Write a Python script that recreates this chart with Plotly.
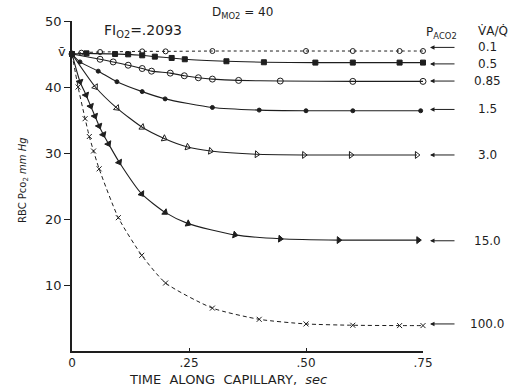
import plotly.graph_objects as go

# ---- data (time along capillary, sec ; RBC Pco2 mm Hg) ----
t_01 = [0, 0.02, 0.06, 0.15, 0.20, 0.30, 0.50, 0.60, 0.70, 0.75]
v_01 = [45, 45.2, 45.3, 45.4, 45.4, 45.45, 45.45, 45.45, 45.45, 45.45]

t_05 = [0, 0.031, 0.092, 0.12, 0.15, 0.177, 0.213, 0.241, 0.33, 0.41, 0.52, 0.60, 0.70, 0.75]
v_05 = [45, 45.1, 45.0, 44.95, 44.8, 44.6, 44.4, 44.2, 43.9, 43.75, 43.7, 43.7, 43.7, 43.7]

t_085 = [0, 0.06, 0.088, 0.12, 0.15, 0.17, 0.21, 0.24, 0.27, 0.30, 0.356, 0.445, 0.60, 0.75]
v_085 = [45, 44.2, 43.8, 43.3, 42.8, 42.4, 42.1, 41.7, 41.4, 41.2, 41.0, 40.9, 40.85, 40.85]

t_15 = [0, 0.017, 0.056, 0.096, 0.15, 0.199, 0.30, 0.40, 0.50, 0.60, 0.745]
v_15 = [45, 43.8, 42.4, 40.8, 39.3, 38.2, 36.9, 36.5, 36.4, 36.4, 36.4]

t_30 = [0, 0.05, 0.096, 0.15, 0.197, 0.247, 0.296, 0.395, 0.496, 0.596, 0.737]
v_30 = [45, 40.0, 36.8, 33.9, 32.2, 30.9, 30.3, 29.8, 29.7, 29.7, 29.7]

t_150 = [0, 0.017, 0.03, 0.04, 0.049, 0.058, 0.067, 0.078, 0.101, 0.149, 0.199, 0.248, 0.348, 0.445, 0.57, 0.74]
v_150 = [45, 40.8, 38.8, 37.1, 35.6, 34.1, 32.8, 31.4, 28.6, 23.8, 21.0, 19.3, 17.6, 17.0, 16.8, 16.8]

t_1000 = [0, 0.013, 0.028, 0.037, 0.046, 0.058, 0.099, 0.149, 0.20, 0.30, 0.40, 0.50, 0.60, 0.70, 0.75]
v_1000 = [45, 40.0, 35.2, 32.5, 30.3, 27.6, 20.2, 14.5, 10.3, 6.5, 4.8, 4.1, 3.9, 3.85, 3.85]

ratio_labels = ["0.1", "0.5", "0.85", "1.5", "3.0", "15.0", "100.0"]
label_y = [46.0, 43.5, 40.9, 36.6, 29.7, 16.7, 4.1]

x_tickvals = [0, 0.25, 0.5, 0.75]
x_ticktext = ["0", ".25", ".50", ".75"]
y_tickvals = [10, 20, 30, 40, 50]
y_ticktext = ["10", "20", "30", "40", "50"]

INK = "#1e1e1e"
W, H = 524, 392
ML, MR, MT, MB = 72, 101, 21, 41
PW, PH = W - ML - MR, H - MT - MB
X0, X1, Y0, Y1 = 0, 0.75, 0, 50

fig = go.Figure()

def add(t, v, symbol, size, dash="solid", width=1.1, angleref="up", fill=INK):
    fig.add_trace(go.Scatter(
        x=t, y=v, mode="lines+markers", cliponaxis=False,
        line=dict(color=INK, width=width, dash=dash, shape="spline", smoothing=0.6),
        marker=dict(symbol=symbol, size=size, color=fill, angleref=angleref,
                    line=dict(color=INK, width=1)),
        showlegend=False))

add(t_01, v_01, "circle-open", 5, dash="dot", width=1.0)
add(t_05, v_05, "square", 5)
add(t_085, v_085, "circle-open", 6)
add(t_15, v_15, "circle", 4)
add(t_30, v_30, "triangle-up-open", 6, angleref="previous")
add(t_150, v_150, "triangle-up", 6, angleref="previous")
add(t_1000, v_1000, "x-thin-open", 5, dash="4px,3px", width=1.0)

def px_x(xp):
    return (xp - ML) / PW

def px_y(yp):
    return (H - MB - yp) / PH

def val_y(v):
    return (v - Y0) / (Y1 - Y0)

def pix(xp, yp, text, size=12, **kw):
    return dict(x=px_x(xp), y=px_y(yp), xref="paper", yref="paper", text=text,
                showarrow=False, font=dict(size=size, color=INK, family="DejaVu Sans"),
                xanchor="center", yanchor="middle", **kw)

ann = []
for lab, yv in zip(ratio_labels, label_y):
    ann.append(dict(x=px_x(430), y=val_y(yv), xref="paper", yref="paper",
                    ax=26, ay=0, text="", showarrow=True, arrowhead=2, arrowsize=0.9,
                    arrowwidth=1, arrowcolor=INK))
    ann.append(dict(x=px_x(487), y=val_y(yv), xref="paper", yref="paper", text=lab,
                    showarrow=False, font=dict(size=12, color=INK, family="DejaVu Sans"),
                    xanchor="center", yanchor="middle"))

ann += [
    pix(441, 33, "P<sub>A</sub><sub>CO2</sub>", 12),
    pix(493, 31, "V̇A/Q̇", 12),
    pix(242, 13, "D<sub>M</sub><sub>O2</sub> = 40", 12),
    pix(143, 31, "FI<sub>O2</sub>=.2093", 14),
    pix(62, 51, "v̄", 13),
    pix(23, 180, "RBC Pco<sub>2</sub> <i>mm Hg</i>", 10, textangle=-90),
    pix(228, 379, "TIME&nbsp;&nbsp;ALONG&nbsp;&nbsp;CAPILLARY,&nbsp;&nbsp;<i>sec</i>", 13),
]

fig.update_layout(
    width=W, height=H,
    margin=dict(l=ML, r=MR, t=MT, b=MB),
    paper_bgcolor="white", plot_bgcolor="white",
    font=dict(family="DejaVu Sans", color=INK, size=12),
    annotations=ann,
    xaxis=dict(range=[X0, X1], tickvals=x_tickvals, ticktext=x_ticktext,
               showgrid=False, zeroline=False, showline=True, linecolor=INK, linewidth=1.6,
               ticks="inside", ticklen=3, tickcolor=INK, tickfont=dict(size=12)),
    yaxis=dict(range=[Y0, Y1], tickvals=y_tickvals, ticktext=y_ticktext,
               showgrid=False, zeroline=False, showline=True, linecolor=INK, linewidth=1.6,
               ticks="outside", ticklen=6, tickcolor=INK, tickfont=dict(size=13)),
)

fig.write_html("out.html")
